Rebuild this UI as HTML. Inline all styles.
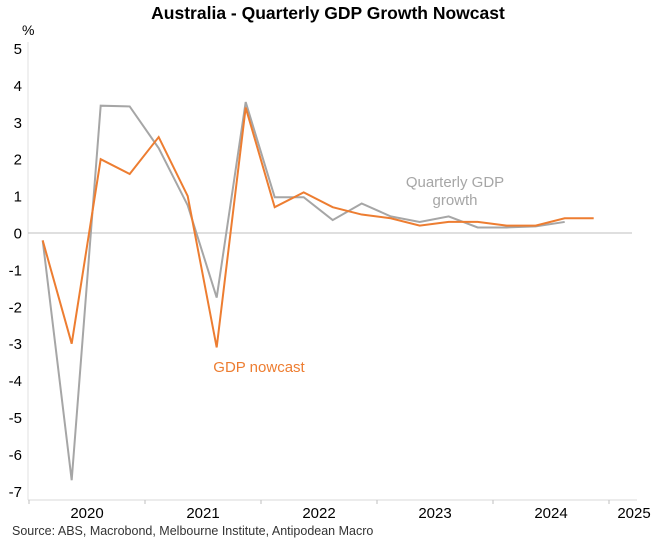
<!DOCTYPE html>
<html><head><meta charset="utf-8"><style>
body{margin:0;background:#fff;}
svg{display:block;font-family:"Liberation Sans",Arial,sans-serif;}
</style></head><body>
<svg id="chart" width="657" height="545">
<text x="328" y="19" text-anchor="middle" font-size="17.5" font-weight="bold" fill="#000">Australia - Quarterly GDP Growth Nowcast</text>
<text x="22" y="35" font-size="14" fill="#000">%</text>
<g id="axes"></g>
<g id="series"></g>
<text x="455" y="187" text-anchor="middle" font-size="15" fill="#a6a6a6">Quarterly GDP</text>
<text x="455" y="205" text-anchor="middle" font-size="15" fill="#a6a6a6">growth</text>
<text x="259" y="372" text-anchor="middle" font-size="15" fill="#ed7d31">GDP nowcast</text>
<text x="12" y="535" font-size="12.5" fill="#333">Source: ABS, Macrobond, Melbourne Institute, Antipodean Macro</text>
</svg>
<script>
const yTicks=[5,4,3,2,1,0,-1,-2,-3,-4,-5,-6,-7];
const years=[2020,2021,2022,2023,2024,2025];
const gdpGrowth=[-0.2,-6.7,3.45,3.43,2.3,0.75,-1.75,3.55,0.97,0.97,0.35,0.8,0.45,0.3,0.45,0.15,0.15,0.18,0.3];
const nowcast=[-0.2,-3.0,2.0,1.6,2.6,1.0,-3.1,3.4,0.7,1.1,0.7,0.5,0.4,0.2,0.3,0.3,0.2,0.2,0.4,0.4];
const NS="http://www.w3.org/2000/svg";
const y0=233,unit=36.9,xStart=29,yearW=116;
const ys=v=>y0-v*unit;
const xs=i=>xStart+(i*0.25+0.118)*yearW;
const axes=document.getElementById('axes'),series=document.getElementById('series');
function mk(tag,attrs,parent){const e=document.createElementNS(NS,tag);for(const k in attrs)e.setAttribute(k,attrs[k]);parent.appendChild(e);return e;}
let yl=mk('line',{x1:28,y1:42,x2:28,y2:500,stroke:'#e0e0e0'},axes);


let xl=mk('line',{x1:28,y1:500,x2:637,y2:500,stroke:'#d9d9d9'},axes);


let zl=mk('line',{x1:28,y1:y0,x2:632,y2:y0,stroke:'#bfbfbf'},axes);


yTicks.forEach(v=>{const t=mk('text',{x:22,y:ys(v)+5.5,'text-anchor':'end','font-size':'15',fill:'#000'},axes);t.textContent=v;

});
years.forEach((yr,i)=>{const x=xStart+i*yearW;
const tk=mk('line',{x1:x,y1:500,x2:x,y2:504,stroke:'#bfbfbf'},axes);


const t=mk('text',{x:Math.min(x+yearW/2,634),y:518,'text-anchor':'middle','font-size':'15',fill:'#000'},axes);t.textContent=yr;

});
function line(arr,col,name){const p=mk('polyline',{points:arr.map((v,i)=>xs(i)+','+ys(v)).join(' '),fill:'none',stroke:col,'stroke-width':'2','stroke-linejoin':'miter'},series);

}
line(gdpGrowth,'#a6a6a6','gdp-growth-line');
line(nowcast,'#ed7d31','nowcast-line');
</script>
</body></html>
